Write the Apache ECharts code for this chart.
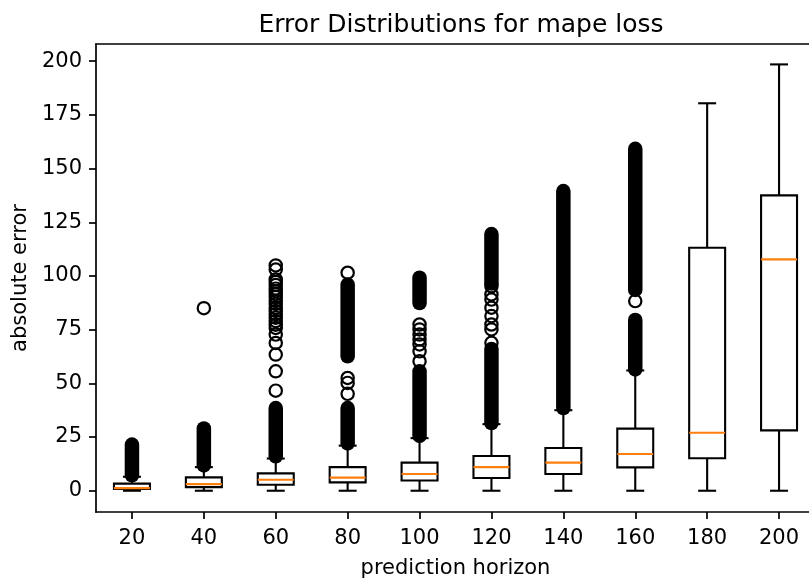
<!DOCTYPE html>
<html>
<head>
<meta charset="utf-8">
<title>Error Distributions for mape loss</title>
<script src="https://cdn.jsdelivr.net/npm/echarts@6/dist/echarts.min.js"></script>
<style>
  html, body { margin: 0; padding: 0; background: #fff; }
  #chart { width: 809px; height: 584px; }
</style>
</head>
<body>
<div id="chart"></div>
<script>
// Prediction horizons on the x axis
const horizons = ['20', '40', '60', '80', '100', '120', '140', '160', '180', '200'];

// Box statistics per horizon
const whiskerLow  = [0, 0, 0, 0, 0, 0, 0, 0, 0, 0];
const quartile1   = [0.8, 1.7, 2.8, 3.9, 4.8, 5.9, 7.8, 10.9, 15.1, 28.1];
const medians     = [1.2, 3.1, 5.1, 6.1, 7.8, 11.0, 13.1, 17.1, 27.0, 107.7];
const quartile3   = [3.3, 6.2, 8.1, 11.0, 13.1, 16.2, 19.9, 28.9, 113.1, 137.5];
const whiskerHigh = [6.5, 11, 15, 21, 24.5, 31, 37.5, 56, 180.4, 198.5];

// Individual outliers, one list per horizon
const sparseOutliers = [
  [],
  [85],
  [104.9, 103.0, 98.4, 97.2, 95.8, 94.1, 92.9, 91.5, 90.2, 88.4, 87.0, 85.1, 83.7, 82.2, 80.6, 79.0, 77.3, 75.8, 72.7, 68.8, 63.4, 55.6, 46.6],
  [101.5, 52.5, 50.2, 45.1],
  [77.4, 75.1, 72.7, 70.4, 68.1, 64.9, 60.3],
  [95.2, 91.4, 89.0, 85.2, 81.3, 77.4, 75.1, 68.9],
  [],
  [88.3],
  [],
  []
];

// Runs of outliers packed so tightly that their markers merge: [horizon index, lowest, highest]
const denseOutlierSpans = [
  [0, 7.2, 21.5],
  [1, 11.8, 29.0],
  [2, 16.0, 38.5],
  [3, 22.0, 38.5],
  [3, 62.6, 96.0],
  [4, 25.5, 55.6],
  [4, 87.4, 99.2],
  [5, 31.5, 66.0],
  [5, 96.5, 119.5],
  [6, 38.5, 139.5],
  [7, 56.5, 79.5],
  [7, 93.5, 159.2]
];

// Value axis ticks
const yTicks = [0, 25, 50, 75, 100, 125, 150, 175, 200];

const FONT = 'DejaVu Sans';
const LINE_W = 2.1;
const MARK_D = 12.3;    // flier circle diameter
const MARK_W = 2.2;     // flier circle edge width
const SPINE = { color: '#000', width: 1.7 };

const boxRows = horizons.map((h, i) => [i, whiskerLow[i], quartile1[i], medians[i], quartile3[i], whiskerHigh[i]]);
const flierPoints = [];
sparseOutliers.forEach((list, i) => list.forEach(v => flierPoints.push([i, v])));

function renderBox(params, api) {
  const i = api.value(0);
  const band = api.size([1, 0])[0];
  const half = band * 0.25;
  const capHalf = band * 0.125;
  const pLow = api.coord([i, api.value(1)]);
  const pQ1 = api.coord([i, api.value(2)]);
  const pMed = api.coord([i, api.value(3)]);
  const pQ3 = api.coord([i, api.value(4)]);
  const pHigh = api.coord([i, api.value(5)]);
  const cx = pQ1[0];
  const stroke = { stroke: '#000', lineWidth: LINE_W, fill: null };
  return {
    type: 'group',
    children: [
      { type: 'line', shape: { x1: cx, y1: pQ1[1], x2: cx, y2: pLow[1] }, style: stroke },
      { type: 'line', shape: { x1: cx, y1: pQ3[1], x2: cx, y2: pHigh[1] }, style: stroke },
      { type: 'line', shape: { x1: cx - capHalf, y1: pLow[1], x2: cx + capHalf, y2: pLow[1] }, style: stroke },
      { type: 'line', shape: { x1: cx - capHalf, y1: pHigh[1], x2: cx + capHalf, y2: pHigh[1] }, style: stroke },
      { type: 'rect', shape: { x: cx - half, y: pQ3[1], width: half * 2, height: pQ1[1] - pQ3[1] }, style: stroke },
      { type: 'line', shape: { x1: cx - half, y1: pMed[1], x2: cx + half, y2: pMed[1] },
        style: { stroke: '#ff7f0e', lineWidth: LINE_W } }
    ]
  };
}

function renderDenseSpan(params, api) {
  const i = api.value(0);
  const a = api.coord([i, api.value(1)]);
  const b = api.coord([i, api.value(2)]);
  return {
    type: 'line',
    shape: { x1: a[0], y1: a[1], x2: b[0], y2: b[1] },
    style: { stroke: '#000', lineWidth: MARK_D + MARK_W, lineCap: 'round' }
  };
}

const chart = echarts.init(document.getElementById('chart'), null, { renderer: 'canvas' });
chart.setOption({
  animation: false,
  backgroundColor: '#fff',
  textStyle: { fontFamily: FONT, color: '#000' },
  title: {
    text: 'Error Distributions for mape loss',
    left: 456,
    top: 8,
    textAlign: 'center',
    textStyle: { fontFamily: FONT, fontSize: 25, fontWeight: 'normal', color: '#000' }
  },
  grid: {
    left: 96, top: 44, width: 719, height: 468,
    show: false,
    containLabel: false,
    outerBoundsMode: 'none'
  },
  xAxis: [
    {
      type: 'category',
      data: horizons,
      boundaryGap: true,
      name: 'prediction horizon',
      nameLocation: 'middle',
      nameGap: 46,
      nameTextStyle: { fontFamily: FONT, fontSize: 21, color: '#000' },
      axisLine: { show: true, onZero: false, lineStyle: SPINE },
      axisTick: { show: true, alignWithLabel: true, length: 7, lineStyle: SPINE },
      axisLabel: { fontFamily: FONT, fontSize: 21, color: '#000', margin: 16 },
      splitLine: { show: false }
    },
    {
      // top frame line
      type: 'category',
      data: horizons,
      position: 'top',
      axisLine: { show: true, onZero: false, lineStyle: SPINE },
      axisTick: { show: false },
      axisLabel: { show: false },
      splitLine: { show: false }
    }
  ],
  yAxis: {
    type: 'value',
    min: -9.9,
    max: 208,
    name: 'absolute error',
    nameLocation: 'middle',
    nameGap: 64,
    nameRotate: 90,
    nameTextStyle: { fontFamily: FONT, fontSize: 21, color: '#000' },
    axisLine: { show: true, onZero: false, lineStyle: SPINE },
    axisTick: { show: true, length: 7, customValues: yTicks, lineStyle: SPINE },
    axisLabel: { fontFamily: FONT, fontSize: 21, color: '#000', margin: 14, customValues: yTicks },
    splitLine: { show: false }
  },
  series: [
    {
      type: 'custom',
      name: 'boxes',
      renderItem: renderBox,
      data: boxRows,
      encode: { x: 0, y: [1, 2, 3, 4, 5] },
      z: 2
    },
    {
      type: 'custom',
      name: 'dense outliers',
      renderItem: renderDenseSpan,
      data: denseOutlierSpans,
      encode: { x: 0, y: [1, 2] },
      z: 3
    },
    {
      type: 'scatter',
      name: 'outliers',
      data: flierPoints,
      symbol: 'circle',
      symbolSize: MARK_D,
      itemStyle: { color: 'rgba(0,0,0,0)', borderColor: '#000', borderWidth: MARK_W, opacity: 1 },
      z: 4
    }
  ]
});
</script>
</body>
</html>
